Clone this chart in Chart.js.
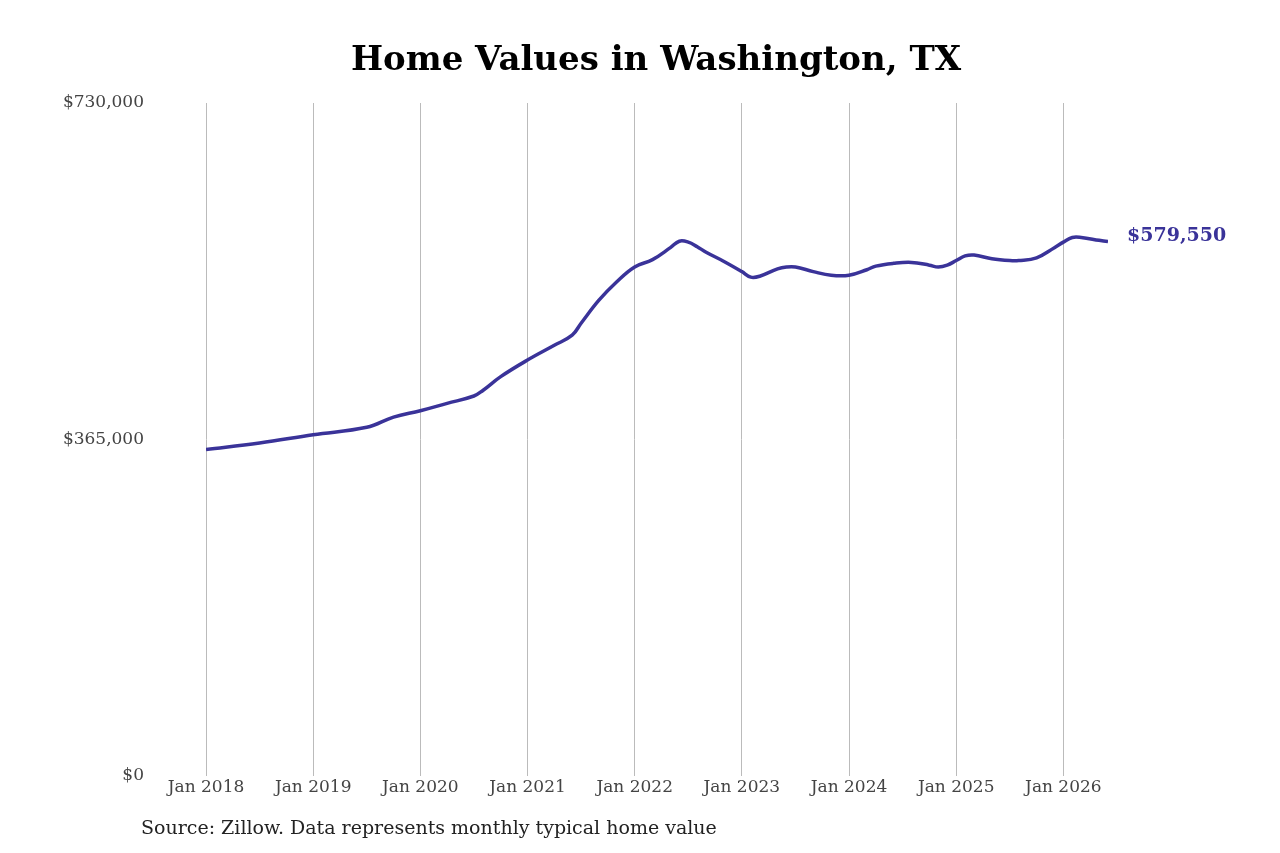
<!DOCTYPE html>
<html>
<head>
<meta charset="utf-8">
<script src="https://cdn.jsdelivr.net/npm/chart.js@4"></script>
<style>
  body { margin: 0; background: #fff; }
  #wrap { position: relative; width: 1280px; height: 853px; }
  #title { position: absolute; left: 0; width: 1312px; top: 38px; text-align: center; font: bold 34px "DejaVu Serif", serif; color: #000; }
  #source { position: absolute; left: 141px; top: 816px; font: 19px "DejaVu Serif", serif; color: #222; }
</style>
</head>
<body>
<div id="wrap">
  <canvas id="home-chart" width="1280" height="853"></canvas>
  <div id="title">Home Values in Washington, TX</div>
  <div id="source">Source: Zillow. Data represents monthly typical home value</div>
</div>
<script>
// Monthly typical home value, x = months since Jan 2018
const homeValues = [
    [0, 354000], [6, 361000], [12, 370000], [18, 378000], [21, 389000],
    [24, 396000], [27, 404000], [30, 412000], [31, 418000], [33, 433000],
    [36, 451000], [39, 467000], [41, 478000], [42, 491000], [44, 516000],
    [46, 536000], [48, 552000], [50, 560000], [52, 573000], [53, 580000],
    [54, 579000], [55, 574000], [56, 568000], [58, 558000], [60, 547000],
    [61, 541000], [62, 542000], [64, 550000], [65, 552000], [66, 552000],
    [68, 547000], [70, 543000], [72, 543000], [74, 549000], [75, 553000],
    [77, 556000], [79, 557000], [81, 554000], [82, 552000], [83, 554000],
    [84, 559000], [85, 564000], [86, 565000], [88, 561000], [90, 559000],
    [91, 559000], [93, 562000], [95, 573000], [96, 579000], [97, 584000],
    [98, 584000], [100, 581000], [101, 579550]
];

const lastLabel = {
    id: 'lastLabel',
    afterDatasetsDraw(chart) {
        const meta = chart.getDatasetMeta(0);
        const pt = meta.data[meta.data.length - 1];
        const ctx = chart.ctx;
        ctx.save();
        ctx.font = 'bold 19px "DejaVu Serif", serif';
        ctx.fillStyle = '#3a3399';
        ctx.textBaseline = 'middle';
        ctx.fillText('$579,550', pt.x + 19, pt.y - 6);
        ctx.restore();
    }
};

const ctx = document.getElementById('home-chart').getContext('2d');
new Chart(ctx, {
    type: 'line',
    data: {
        datasets: [{
            data: homeValues.map(p => ({ x: p[0], y: p[1] })),
            borderColor: '#3a3399',
            borderWidth: 3.5,
            pointRadius: 0,
            tension: 0.4,
            fill: false
        }]
    },
    options: {
        responsive: false,
        animation: false,
        layout: { padding: { left: 0, right: 172, top: 103, bottom: 53 } },
        scales: {
            x: {
                type: 'linear',
                min: 0,
                max: 101,
                afterBuildTicks: axis => {
                    axis.ticks = [0, 12, 24, 36, 48, 60, 72, 84, 96].map(v => ({ value: v }));
                },
                ticks: {
                    callback: v => 'Jan ' + (2018 + v / 12),
                    font: { family: 'DejaVu Serif', size: 17 },
                    color: '#444',
                    maxRotation: 0,
                    padding: 2
                },
                grid: { color: '#bbb', drawTicks: false },
                border: { display: false }
            },
            y: {
                min: 0,
                max: 730000,
                afterBuildTicks: axis => {
                    axis.ticks = [0, 365000, 730000].map(v => ({ value: v }));
                },
                ticks: {
                    callback: v => '$' + v.toLocaleString('en-US'),
                    font: { family: 'DejaVu Serif', size: 17 },
                    color: '#444',
                    padding: 54
                },
                afterFit: axis => { axis.width = 206; },
                grid: { display: false },
                border: { display: false }
            }
        },
        plugins: {
            legend: { display: false },
            tooltip: { enabled: false },
            title: { display: false }
        }
    },
    plugins: [lastLabel]
});
</script>
</body>
</html>
